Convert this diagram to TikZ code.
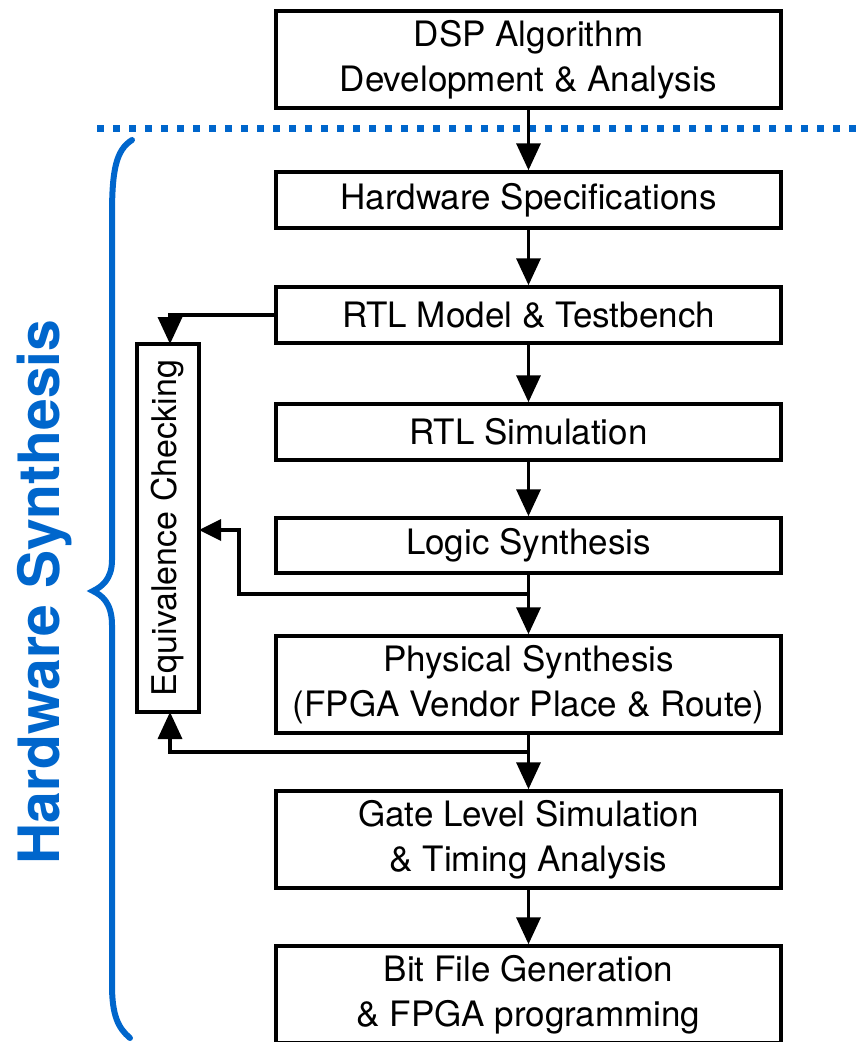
\documentclass[tikz,border=0pt]{standalone}
\usepackage{fontspec}
\setmainfont{TeX Gyre Heros}
\usetikzlibrary{arrows.meta,positioning}
\definecolor{hsblue}{RGB}{0,102,204}
\tikzset{
  flowbox/.style={draw=black, line width=3.5pt, minimum width=505pt, inner sep=0pt,
    align=center, font=\fontsize{35}{45}\selectfont},
  flowarrow/.style={draw=black, line width=3.5pt, -{Triangle[width=24pt,length=27pt]}},
  smallarrow/.style={draw=black, line width=3.5pt, -{Triangle[width=21pt,length=22pt]}},
}
\begin{document}
\begin{tikzpicture}[x=1pt,y=-1pt]
\useasboundingbox (0,0) rectangle (861,1042);
\begin{scope}
\clip (0,0) rectangle (861,1042);

% dotted separator between algorithm work and hardware synthesis
\draw[hsblue, line width=7pt, dash pattern=on 7pt off 9pt] (97,128) -- (861,128);

% main flow
\node[flowbox, minimum height=97pt] (dsp) at (528.5,59.5) {DSP Algorithm\\Development \& Analysis};
\node[flowbox, minimum height=56pt] (hws) at (528.5,200) {Hardware Specifications};
\node[flowbox, minimum height=56pt] (rtlm) at (528.5,315) {RTL Model \& Testbench};
\node[flowbox, minimum height=56pt] (rtls) at (528.5,432) {RTL Simulation};
\node[flowbox, minimum height=55pt] (logic) at (528.5,545.5) {Logic Synthesis};
\node[flowbox, minimum height=97pt] (phys) at (528.5,684.5) {Physical Synthesis\\(FPGA Vendor Place \& Route)};
\node[flowbox, minimum height=97pt] (gate) at (528.5,839.5) {Gate Level Simulation\\\& Timing Analysis};
\node[flowbox, minimum height=97pt] (bit) at (528.5,994.5) {Bit File Generation\\\& FPGA programming};

% equivalence checking box (rotated, so width runs along the column)
\node[draw=black, line width=3.5pt, minimum width=368pt, minimum height=62pt, inner sep=0pt,
  rotate=90, font=\fontsize{34}{40}\selectfont] (equiv) at (168,528) {Equivalence Checking};

% branch points
\coordinate (j1) at (528,594);
\coordinate (j2) at (528,752);

% vertical connectors
\draw[flowarrow] (dsp.south) -- (hws.north);
\draw[flowarrow] (hws.south) -- (rtlm.north);
\draw[flowarrow] (rtlm.south) -- (rtls.north);
\draw[flowarrow] (rtls.south) -- (logic.north);
\draw[flowarrow] (logic.south) -- (phys.north);
\draw[flowarrow] (phys.south) -- (gate.north);
\draw[flowarrow] (gate.south) -- (bit.north);

% feeds into equivalence checking
\draw[flowarrow] (rtlm.west) -| (170,344);
\draw[smallarrow] (j1) -- (239,594) -- (239,530) -- (199,530);
\draw[flowarrow] (j2) -| (170,712);

% brace and label
\draw[hsblue, line width=6pt, line cap=round]
  (132,140) .. controls (116,150) and (112,170) .. (112,215)
  -- (112,560) .. controls (112,580) and (101,587) .. (93,591)
  .. controls (101,595) and (112,602) .. (112,625)
  -- (112,985) .. controls (112,1015) and (118,1028) .. (130,1038);
\node[rotate=90, text=hsblue, font=\fontsize{57}{60}\selectfont\bfseries] (hslabel) at (45,592) {Hardware Synthesis};
\end{scope}
\end{tikzpicture}
\end{document}
